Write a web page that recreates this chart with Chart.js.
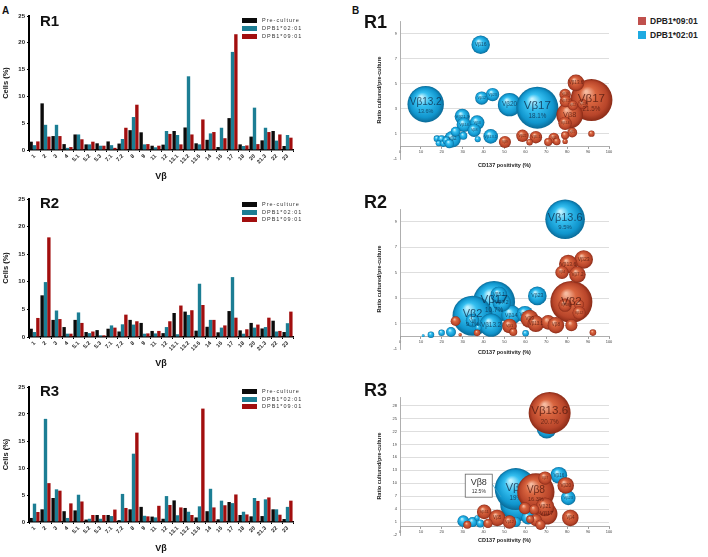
<!DOCTYPE html>
<html>
<head>
<meta charset="utf-8">
<script src="https://cdn.jsdelivr.net/npm/chart.js@4.4.1/dist/chart.umd.min.js"></script>
<style>
  body { margin: 0; background: #fff; width: 708px; height: 557px; position: relative; overflow: hidden;
         font-family: "Liberation Sans", Arial, sans-serif; }
  canvas { position: absolute; }
  .t { position: absolute; font-weight: bold; white-space: nowrap; line-height: 1; color: #111; }
  .lg { position: absolute; left: 242px; font-size: 5.5px; letter-spacing: 1px; color: #333; line-height: 5px;
        display: flex; align-items: center; white-space: nowrap; }
  .lg i { display: inline-block; width: 15px; height: 5px; margin-right: 5px; }
  .bl { position: absolute; left: 638px; font-size: 8.5px; font-weight: bold; color: #222; display: flex;
        align-items: center; white-space: nowrap; line-height: 8px; }
  .bl i { display: inline-block; width: 8px; height: 8px; margin-right: 4px; }
</style>
</head>
<body>
<div class="t" style="left:2px;top:6px;font-size:10px">A</div>
<div class="t" style="left:352px;top:6px;font-size:10px">B</div>

<canvas id="bar1" width="300" height="185" style="left:0;top:0"></canvas>
<canvas id="bar2" width="300" height="189" style="left:0;top:183px"></canvas>
<canvas id="bar3" width="300" height="186" style="left:0;top:371px"></canvas>
<canvas id="bub1" width="258" height="180" style="left:372px;top:0"></canvas>
<canvas id="bub2" width="258" height="182" style="left:372px;top:188px"></canvas>
<canvas id="bub3" width="258" height="180" style="left:372px;top:376px"></canvas>

<div class="t" style="left:40px;top:13px;font-size:15px">R1</div>
<div class="t" style="left:40px;top:195px;font-size:15px">R2</div>
<div class="t" style="left:40px;top:383px;font-size:15px">R3</div>
<div class="t" style="left:364px;top:13px;font-size:18px">R1</div>
<div class="t" style="left:364px;top:193px;font-size:18px">R2</div>
<div class="t" style="left:364px;top:381px;font-size:18px">R3</div>

<div class="lg" style="top:18px"><i style="background:#0b0b0b"></i>Pre-culture</div>
<div class="lg" style="top:26px"><i style="background:#1c7e94"></i>DPB1*02:01</div>
<div class="lg" style="top:33.5px"><i style="background:#a20e0e"></i>DPB1*09:01</div>
<div class="lg" style="top:202px"><i style="background:#0b0b0b"></i>Pre-culture</div>
<div class="lg" style="top:209.5px"><i style="background:#1c7e94"></i>DPB1*02:01</div>
<div class="lg" style="top:217px"><i style="background:#a20e0e"></i>DPB1*09:01</div>
<div class="lg" style="top:389px"><i style="background:#0b0b0b"></i>Pre-culture</div>
<div class="lg" style="top:396.5px"><i style="background:#1c7e94"></i>DPB1*02:01</div>
<div class="lg" style="top:404px"><i style="background:#a20e0e"></i>DPB1*09:01</div>

<div class="bl" style="top:17px"><i style="background:#c0504d"></i>DPB1*09:01</div>
<div class="bl" style="top:31px"><i style="background:#1eaae1"></i>DPB1*02:01</div>

<script>
// Vβ families on the bar charts
const vbCategories = ['1', '2', '3', '4', '5.1', '5.2', '5.3', '7.1', '7.2', '8', '9', '11', '12',
  '13.1', '13.2', '13.6', '14', '16', '17', '18', '20', '21.3', '22', '23'];

// % cells, R1
const r1Pre  = [1.55, 8.7, 2.6, 1.1, 2.9, 1.05, 1.25, 1.6, 1.2, 3.7, 3.3, 0.8, 1.0, 3.55, 4.2, 1.25, 1.9, 0.55, 5.95, 1.05, 2.5, 1.8, 3.55, 0.75];
const r1Dp02 = [0.9, 4.7, 4.7, 0.4, 2.9, 1.05, 0.8, 0.9, 2.05, 6.15, 1.05, 0.5, 3.55, 2.8, 13.75, 1.05, 3.1, 4.15, 18.3, 0.75, 7.9, 4.15, 1.75, 2.8];
const r1Dp09 = [1.6, 2.5, 2.6, 0.55, 2.0, 1.55, 0.8, 0.4, 4.15, 8.45, 1.1, 0.8, 3.0, 1.05, 2.9, 5.7, 3.35, 2.2, 21.6, 0.85, 1.1, 3.35, 2.9, 2.3];
// R2
const r2Pre  = [1.5, 7.55, 3.1, 1.8, 3.1, 0.9, 1.25, 1.5, 1.0, 3.1, 2.55, 1.1, 0.7, 4.35, 4.6, 1.15, 1.85, 0.85, 4.7, 1.2, 2.55, 1.55, 2.95, 0.9];
const r2Dp02 = [0.9, 9.95, 4.8, 0.6, 4.45, 0.7, 0.3, 2.1, 2.3, 2.25, 0.6, 0.65, 1.8, 0.5, 4.0, 9.65, 3.1, 1.7, 10.85, 0.6, 1.7, 1.8, 1.0, 2.5];
const r2Dp09 = [3.45, 18.05, 3.25, 0.6, 2.55, 1.0, 0.3, 1.7, 4.05, 2.85, 0.65, 1.1, 2.85, 5.7, 4.85, 5.8, 3.1, 2.1, 3.5, 1.4, 2.25, 3.5, 1.1, 4.6];
// R3
const r3Pre  = [0.75, 2.35, 4.45, 2.0, 2.15, 0.45, 1.3, 1.3, 0.35, 2.35, 2.8, 1.0, 0.6, 4.0, 2.6, 0.85, 2.0, 0.5, 3.7, 1.3, 1.05, 1.1, 2.35, 0.55];
const r3Dp02 = [3.4, 19.1, 6.05, 0.75, 5.05, 0.6, 0.6, 1.1, 5.2, 12.65, 1.15, 0.85, 4.8, 1.25, 1.9, 2.9, 6.15, 3.95, 3.5, 1.9, 4.45, 4.2, 2.35, 2.8];
const r3Dp09 = [1.85, 7.2, 5.8, 3.45, 3.8, 1.3, 1.3, 2.3, 2.6, 16.55, 1.05, 3.0, 3.15, 2.7, 1.3, 21.0, 2.7, 3.1, 5.1, 1.4, 3.9, 4.55, 1.35, 3.95];

// bubbles: [CD137 positivity %, ratio cultured/pre-culture, % cells, label, % label, callout]
const b1Red = [
  [91.6, 3.7, 21.6, 'Vβ17', '21.5%'], [81.2, 2.5, 8.7, 'Vβ8'], [84.2, 5.07, 3.4, 'Vβ13.6'],
  [79.0, 4.14, 1.6, 'Vβ16'], [79.3, 3.6, 1.8, 'Vβ7.2'], [82.7, 3.27, 1.2, 'Vβ12'], [87.4, 3.37, 1.2, 'Vβ23'],
  [79.0, 1.84, 2.2, 'Vβ14'], [82.4, 1.11, 1.2, 'Vβ1'], [79.0, 0.89, 0.8, ''], [91.6, 1.02, 0.5, ''],
  [58.6, 0.85, 1.9, 'Vβ22'], [65.0, 0.74, 1.9, 'Vβ5.1'], [50.2, 0.36, 1.8, 'Vβ9'], [73.6, 0.67, 1.4, 'Vβ3'],
  [70.9, 0.36, 0.8, ''], [75.0, 0.4, 0.7, ''], [62.0, 0.34, 0.5, ''], [79.0, 0.4, 0.35, '']
];
const b1Blue = [
  [12.3, 3.37, 13.6, 'Vβ13.2', '13.6%'], [38.6, 8.1, 3.5, 'Vβ16'], [52.4, 3.33, 5.6, 'Vβ20'],
  [65.7, 3.09, 18.1, 'Vβ17', '18.1%'], [39.1, 3.86, 1.8, 'Vβ12'], [44.3, 4.14, 1.8, 'Vβ23'],
  [29.8, 2.39, 2.4, 'Vβ21.3'], [30.6, 1.73, 2.2, 'Vβ14'], [36.9, 1.9, 2.2, 'Vβ3'], [35.5, 1.29, 1.8, 'Vβ8'],
  [43.4, 0.8, 2.2, 'Vβ13.1'], [25.1, 0.58, 2.8, 'Vβ2'], [26.6, 1.18, 1.0, ''], [30.3, 0.85, 0.65, ''],
  [17.7, 0.62, 0.45, ''], [19.9, 0.58, 0.65, ''], [18.5, 0.25, 0.37, ''], [20.7, 0.23, 0.45, ''],
  [22.2, 0.47, 0.65, ''], [37.2, 0.58, 0.37, ''], [23.6, 0.23, 0.9, '']
];
const b2Red = [
  [82.0, 2.7, 18.05, 'Vβ2'], [87.9, 6.03, 3.5, 'Vβ23'], [80.5, 5.67, 3.5, 'Vβ13.6'], [84.9, 4.85, 2.8, 'Vβ7.2'],
  [77.5, 5.02, 1.8, 'Vβ4'], [79.0, 2.44, 1.8, 'Vβ18'], [85.7, 2.49, 1.0, ''], [85.7, 1.84, 1.8, 'Vβ12'],
  [62.0, 1.37, 3.3, 'Vβ9'], [65.0, 0.98, 2.8, 'Vβ13.1'], [70.9, 1.09, 2.2, ''], [74.6, 0.87, 2.8, 'Vβ8'],
  [82.0, 0.87, 1.5, ''], [52.4, 0.81, 2.2, 'Vβ1'], [54.2, 0.33, 0.65, ''], [26.6, 1.19, 1.0, ''],
  [36.9, 0.27, 0.45, ''], [28.8, 0.12, 0.12, ''], [92.3, 0.29, 0.45, '']
];
const b2Blue = [
  [45.0, 2.7, 10.7, 'Vβ17', '10.7%'], [34.7, 1.62, 9.7, 'Vβ2', '9.7%'], [79.0, 9.19, 9.5, 'Vβ13.6', '9.5%'],
  [43.6, 0.87, 3.3, 'Vβ13.2'], [53.2, 1.67, 2.4, 'Vβ14'], [48.7, 2.65, 2.1, 'Vβ7.2'], [47.3, 3.24, 1.7, 'Vβ5.1'],
  [65.7, 3.17, 2.1, 'Vβ23'], [59.8, 1.73, 1.7, 'Vβ16'], [34.7, 1.24, 1.1, 'Vβ8'], [24.4, 0.33, 0.6, ''],
  [19.9, 0.27, 0.26, ''], [14.8, 0.12, 0.26, ''], [11.1, 0.05, 0.05, ''], [60.1, 0.23, 0.26, ''], [37.4, 0.66, 0.26, '']
];
const b3Red = [
  [71.6, 26.3, 20.7, 'Vβ13.6', '20.7%'], [65.0, 8.0, 16.3, 'Vβ8', '16.3%'], [69.4, 11.2, 2.1, 'Vβ7'],
  [79.3, 9.5, 3.2, 'Vβ20'], [81.5, 1.96, 3.2, 'Vβ4'], [70.2, 2.9, 5.4, 'Vβ17'], [69.4, 4.5, 4.1, 'Vβ21'],
  [59.8, 4.2, 1.7, ''], [64.2, 3.9, 1.2, ''], [65.0, 1.45, 1.7, ''], [62.3, 1.64, 0.75, ''],
  [40.3, 3.36, 2.5, 'Vβ11'], [46.5, 1.96, 3.2, 'Vβ5'], [52.4, 1.0, 2.1, 'Vβ12'], [42.1, 0.68, 1.0, ''],
  [32.2, 0.36, 0.75, ''], [67.2, 0.36, 1.2, '']
];
const b3Blue = [
  [56.1, 5.15, 12.5, 'Vβ8', '12.5%', true], [55.4, 8.66, 19.0, 'Vβ2', '19%'], [70.2, 22.7, 4.3, 'Vβ7.2'],
  [76.0, 11.85, 3.0, 'Vβ16'], [80.5, 6.6, 2.3, 'Vβ23'], [61.3, 1.96, 1.9, ''], [30.3, 1.2, 1.5, ''],
  [34.7, 1.0, 1.1, ''], [38.4, 0.68, 0.7, ''], [36.9, 1.96, 0.3, ''], [55.4, 1.0, 1.1, '']
];

const b1Ticks = [-1, 1, 3, 5, 7, 9];
const b2Ticks = [-1, 1, 3, 5, 7, 9];
const b3Ticks = [-2, 1, 4, 7, 10, 13, 16, 19, 22, 25, 28];

const FONT = '"Liberation Sans", Arial, sans-serif';
Chart.defaults.font.family = FONT;
const BUBBLE_RMAX = 21;

function barChart(id, pre, d02, d09) {
  new Chart(document.getElementById(id), {
    type: 'bar',
    data: {
      labels: vbCategories,
      datasets: [
        { label: 'Pre-culture', data: pre, backgroundColor: '#0b0b0b' },
        { label: 'DPB1*02:01', data: d02, backgroundColor: '#1c7e94' },
        { label: 'DPB1*09:01', data: d09, backgroundColor: '#a20e0e' }
      ]
    },
    options: {
      responsive: false,
      animation: false,
      layout: { padding: { top: 16, right: 7, left: 0, bottom: 0 } },
      datasets: { bar: { categoryPercentage: 0.92, barPercentage: 1 } },
      plugins: { legend: { display: false }, tooltip: { enabled: false } },
      scales: {
        x: {
          grid: { drawOnChartArea: false, tickLength: 2, color: '#000' },
          border: { color: '#000', width: 1.5 },
          ticks: { autoSkip: false, maxRotation: 45, minRotation: 45, font: { size: 5.5, weight: 'bold' }, color: '#222', padding: 1 },
          title: { display: true, text: 'Vβ', font: { size: 9, weight: 'bold' }, color: '#111', padding: { top: 0, bottom: 3 } },
          afterFit: s => { s.height = 35; }
        },
        y: {
          min: 0, max: 25,
          ticks: { stepSize: 5, font: { size: 6, weight: 'bold' }, color: '#222', padding: 2 },
          grid: { drawOnChartArea: false, tickLength: 2, color: '#000' },
          border: { color: '#000', width: 2 },
          title: { display: true, text: 'Cells (%)', font: { size: 7.5, weight: 'bold' }, color: '#111', padding: { top: 1, bottom: 0 } },
          afterFit: s => { s.width = 29; }
        }
      }
    }
  });
}

// 3D-looking sphere fill, centred on the point the scales give
function sphere(stops) {
  return ctx => {
    const flat = stops[2][1];
    if (!ctx.raw || !ctx.chart.chartArea) return flat;
    const ch = ctx.chart;
    const px = ch.scales.x.getPixelForValue(ctx.raw.x);
    const py = ch.scales.y.getPixelForValue(ctx.raw.y);
    const r = BUBBLE_RMAX * Math.sqrt(ctx.raw.size / ctx.dataset.maxSize);
    if (![px, py, r].every(Number.isFinite) || r <= 0) return flat;
    const g = ch.ctx.createRadialGradient(px - r * 0.25, py - r * 0.4, r * 0.05, px, py, r);
    stops.forEach(s => g.addColorStop(s[0], s[1]));
    return g;
  };
}
const redStops = [[0, '#f6bba0'], [0.35, '#d9653f'], [0.8, '#b8452a'], [1, '#8a2b17']];
const blueStops = [[0, '#c0f2ff'], [0.35, '#35bff0'], [0.8, '#1095cd'], [1, '#0a6a97']];

const bubbleText = {
  id: 'bubbleText',
  afterDatasetDraw(chart, args) {
    const ds = chart.data.datasets[args.index];
    const c = chart.ctx;
    c.save();
    c.textAlign = 'center';
    c.textBaseline = 'middle';
    args.meta.data.forEach((el, i) => {
      const row = ds.rows[i];
      if (!row[3]) return;
      const r = el.options.radius;
      if (row[5]) {
        const bx = el.x - 52, by = el.y - 30;
        c.strokeStyle = '#3aa0c8';
        c.lineWidth = 0.8;
        c.beginPath();
        c.moveTo(bx + 27, by + 10);
        c.lineTo(el.x - 16, el.y - 7);
        c.stroke();
        c.fillStyle = '#fff';
        c.fillRect(bx, by, 27, 23);
        c.strokeStyle = '#666';
        c.strokeRect(bx, by, 27, 23);
        c.fillStyle = '#333';
        c.font = '9px ' + FONT;
        c.fillText(row[3], bx + 13.5, by + 8);
        c.font = '5px ' + FONT;
        c.fillText(row[4], bx + 13.5, by + 17.5);
        return;
      }
      c.fillStyle = ds.textColor;
      c.font = Math.max(r * 0.55, 2.5) + 'px ' + FONT;
      c.fillText(row[3], el.x, row[4] ? el.y - r * 0.08 : el.y);
      if (row[4]) {
        c.font = (r * 0.3) + 'px ' + FONT;
        c.fillText(row[4], el.x, el.y + r * 0.42);
      }
    });
    c.restore();
  }
};

function bubbleSet(label, rows, stops, textColor) {
  return {
    label: label,
    rows: rows,
    textColor: textColor,
    maxSize: Math.max(...rows.map(r => r[2])),
    data: rows.map(r => ({ x: r[0], y: r[1], size: r[2] })),
    radius: ctx => (ctx.raw && ctx.raw.size) ? BUBBLE_RMAX * Math.sqrt(ctx.raw.size / ctx.dataset.maxSize) : 4,
    backgroundColor: sphere(stops),
    borderWidth: 0,
    clip: false
  };
}

function bubbleChart(id, red, blue, yMin, yMax, yTicks, padTop, titleH) {
  new Chart(document.getElementById(id), {
    type: 'bubble',
    data: {
      datasets: [
        bubbleSet('DPB1*09:01', red, redStops, 'rgba(80,25,15,0.8)'),
        bubbleSet('DPB1*02:01', blue, blueStops, 'rgba(15,45,75,0.8)')
      ]
    },
    options: {
      responsive: false,
      animation: false,
      layout: { padding: { top: padTop, right: 4, left: 0, bottom: 0 } },
      plugins: { legend: { display: false }, tooltip: { enabled: false } },
      scales: {
        x: {
          type: 'linear', position: { y: 0 }, min: 0, max: 100,
          ticks: { stepSize: 10, font: { size: 4 }, color: '#444', padding: 1 },
          grid: { drawOnChartArea: false, tickLength: 2, color: '#9a9a9a' },
          border: { color: '#9a9a9a', width: 0.8 }
        },
        xt: {
          type: 'linear', position: 'bottom', min: 0, max: 1,
          ticks: { display: false }, grid: { display: false }, border: { display: false },
          title: { display: true, text: 'CD137 positivity (%)', font: { size: 5.5, weight: 'bold' }, color: '#222', padding: { top: 0, bottom: 2 } },
          afterFit: s => { s.height = titleH; }
        },
        y: {
          min: yMin, max: yMax,
          afterBuildTicks: s => { s.ticks = yTicks.map(v => ({ value: v })); },
          ticks: { font: { size: 4 }, color: '#444', padding: 3 },
          grid: { color: c => (c.tick && c.tick.value === yMin) ? 'rgba(0,0,0,0)' : '#d6d6d6', lineWidth: 0.8, drawTicks: false },
          border: { color: '#9a9a9a', width: 0.8 },
          title: { display: true, text: 'Ratio cultured/pre-culture', font: { size: 5.5, weight: 'bold' }, color: '#222', padding: { top: 4, bottom: 0 } },
          afterFit: s => { s.width = 28; }
        }
      }
    },
    plugins: [bubbleText]
  });
}

barChart('bar1', r1Pre, r1Dp02, r1Dp09);
barChart('bar2', r2Pre, r2Dp02, r2Dp09);
barChart('bar3', r3Pre, r3Dp02, r3Dp09);
bubbleChart('bub1', b1Red, b1Blue, -1, 10, b1Ticks, 0.8, 12);
bubbleChart('bub2', b2Red, b2Blue, -1, 10, b2Ticks, 1.6, 9);
bubbleChart('bub3', b3Red, b3Blue, -2, 30, b3Ticks, 2.6, 10.3);
</script>
</body>
</html>
